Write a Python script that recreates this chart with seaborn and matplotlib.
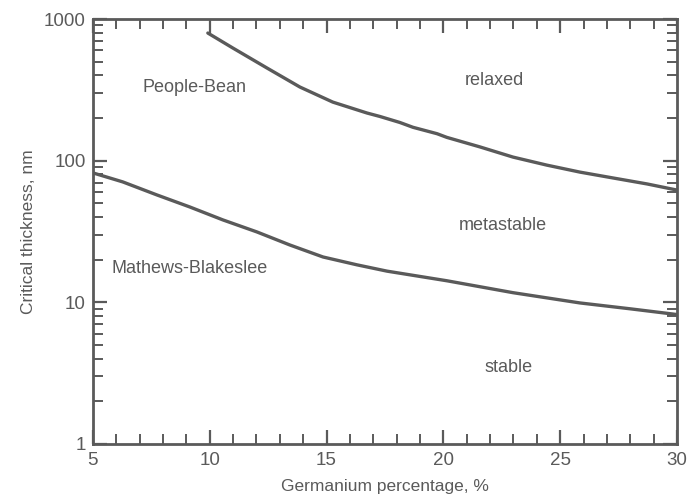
import numpy as np
import pandas as pd
import matplotlib
matplotlib.use("Agg")
import matplotlib.pyplot as plt
import matplotlib.ticker as mticker
import seaborn as sns

# Values
pb_ge = [9.92, 10.99, 12.45, 13.86, 15.27, 16.73, 17.29, 18.14, 18.70, 19.73,
         20.15, 21.57, 22.98, 24.43, 25.85, 27.26, 28.72, 30.0]
pb_thick = [796, 624, 451, 331, 259, 217, 205, 186, 172, 155,
            146, 125, 106, 93, 83, 75.5, 68.5, 62]

mb_ge = [5.0, 6.28, 7.74, 9.15, 10.56, 12.02, 13.43, 14.85, 16.30, 17.59,
         20.15, 22.98, 25.85, 28.0, 30.0]
mb_thick = [82, 70.8, 57.3, 47.1, 38.2, 31.4, 25.4, 20.9, 18.4, 16.6,
            14.2, 11.7, 9.9, 9.0, 8.2]

region_labels = ["People-Bean", "relaxed", "metastable", "Mathews-Blakeslee", "stable"]
label_x = [9.37, 22.2, 22.55, 9.15, 22.8]
label_y = [326, 371, 34.6, 17.2, 3.44]

y_ticks = [1, 10, 100, 1000]
x_ticks = [5, 10, 15, 20, 25, 30]

GREY = "#5a5a5a"

sns.set_style("ticks")
plt.rcParams['font.family'] = ['Liberation Sans', 'DejaVu Sans']

df = pd.concat([
    pd.DataFrame({"ge": pb_ge, "t": pb_thick, "model": "People-Bean"}),
    pd.DataFrame({"ge": mb_ge, "t": mb_thick, "model": "Mathews-Blakeslee"}),
])

fig, ax = plt.subplots(figsize=(6.88, 5.0), dpi=100)
fig.subplots_adjust(left=0.135, right=0.984, top=0.962, bottom=0.112)

sns.lineplot(data=df, x="ge", y="t", units="model", estimator=None,
             color=GREY, linewidth=2.4, ax=ax, legend=False)

ax.set_yscale("log")
ax.set_xlim(5, 30)
ax.set_ylim(1, 1000)

for txt, tx, ty in zip(region_labels, label_x, label_y):
    ax.text(tx, ty, txt, ha="center", va="center", fontsize=13, color=GREY)

ax.set_xticks(x_ticks)
ax.xaxis.set_minor_locator(mticker.MultipleLocator(1))
ax.set_yticks(y_ticks)
ax.yaxis.set_major_formatter(mticker.FuncFormatter(lambda v, p: f"{int(v)}"))
ax.yaxis.set_minor_locator(mticker.LogLocator(base=10, subs=np.arange(2, 10)))
ax.yaxis.set_minor_formatter(mticker.NullFormatter())

ax.tick_params(which="both", direction="in", top=True, right=True,
               color=GREY, labelcolor=GREY, labelsize=13.5)
ax.tick_params(which="major", length=10, width=1.6)
ax.tick_params(which="minor", length=7, width=1.4)
ax.tick_params(axis="x", pad=6)
ax.tick_params(axis="y", pad=5)

for s in ax.spines.values():
    s.set_color(GREY)
    s.set_linewidth(2)

ax.set_xlabel("Germanium percentage, %", fontsize=12.5, color=GREY, labelpad=7)
ax.set_ylabel("Critical thickness, nm", fontsize=12.5, color=GREY, labelpad=6)

fig.savefig("out.png", dpi=100)
